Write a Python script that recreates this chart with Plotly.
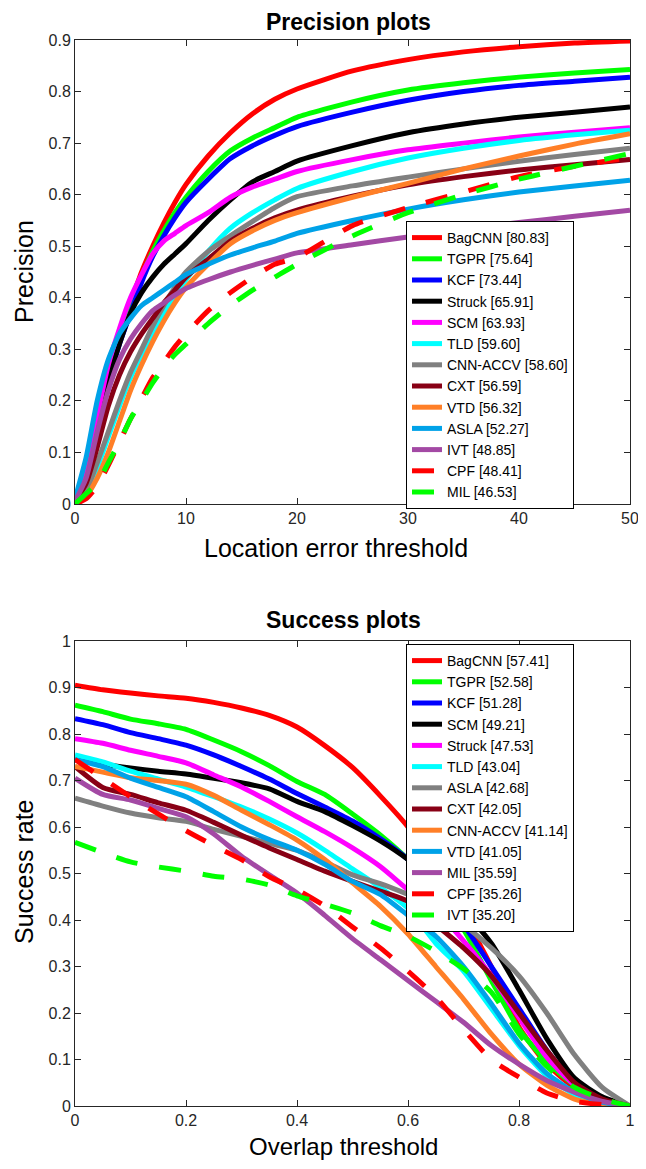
import plotly.graph_objects as go

# ---- precision plot data (location error threshold, px) ----
prec_x = [0, 1, 2, 3, 4, 5, 6, 7, 8, 9, 10, 12, 14, 16, 18, 20, 25, 30, 35, 40, 45, 50]

prec_bagcnn = [0.005, 0.06, 0.15, 0.25, 0.33, 0.39, 0.45, 0.50, 0.545, 0.585, 0.62, 0.675, 0.72, 0.757, 0.785, 0.805, 0.84, 0.862, 0.877, 0.887, 0.894, 0.898]
prec_tgpr = [0.005, 0.05, 0.14, 0.24, 0.32, 0.38, 0.44, 0.49, 0.53, 0.565, 0.595, 0.645, 0.685, 0.71, 0.73, 0.75, 0.78, 0.803, 0.817, 0.828, 0.836, 0.843]
prec_kcf = [0.005, 0.04, 0.13, 0.23, 0.31, 0.37, 0.43, 0.48, 0.52, 0.555, 0.585, 0.63, 0.67, 0.695, 0.715, 0.732, 0.76, 0.783, 0.80, 0.812, 0.82, 0.828]
prec_struck = [0.005, 0.05, 0.14, 0.24, 0.31, 0.37, 0.41, 0.44, 0.465, 0.485, 0.505, 0.55, 0.59, 0.625, 0.645, 0.665, 0.695, 0.72, 0.737, 0.75, 0.76, 0.77]
prec_scm = [0.005, 0.06, 0.17, 0.27, 0.34, 0.40, 0.445, 0.485, 0.51, 0.525, 0.54, 0.565, 0.595, 0.615, 0.63, 0.645, 0.668, 0.687, 0.70, 0.712, 0.721, 0.73]
prec_tld = [0.005, 0.02, 0.07, 0.13, 0.19, 0.245, 0.29, 0.33, 0.37, 0.405, 0.435, 0.49, 0.535, 0.565, 0.59, 0.612, 0.645, 0.671, 0.69, 0.705, 0.716, 0.725]
prec_cnnaccv = [0.005, 0.025, 0.08, 0.14, 0.2, 0.255, 0.3, 0.345, 0.385, 0.42, 0.45, 0.49, 0.52, 0.548, 0.575, 0.596, 0.617, 0.634, 0.65, 0.665, 0.678, 0.69]
prec_cxt = [0.005, 0.04, 0.11, 0.19, 0.25, 0.295, 0.33, 0.36, 0.39, 0.415, 0.44, 0.475, 0.51, 0.535, 0.555, 0.57, 0.597, 0.619, 0.635, 0.648, 0.658, 0.668]
prec_vtd = [0.005, 0.015, 0.05, 0.1, 0.16, 0.22, 0.27, 0.315, 0.355, 0.39, 0.42, 0.465, 0.505, 0.53, 0.55, 0.565, 0.595, 0.622, 0.65, 0.675, 0.698, 0.718]
prec_asla = [0.01, 0.09, 0.2, 0.28, 0.33, 0.36, 0.385, 0.40, 0.415, 0.43, 0.445, 0.465, 0.483, 0.497, 0.51, 0.525, 0.55, 0.572, 0.59, 0.605, 0.617, 0.628]
prec_ivt = [0.005, 0.05, 0.14, 0.22, 0.28, 0.32, 0.35, 0.375, 0.39, 0.405, 0.418, 0.435, 0.45, 0.463, 0.475, 0.487, 0.503, 0.518, 0.533, 0.546, 0.558, 0.57]
prec_cpf = [0.0, 0.01, 0.035, 0.075, 0.12, 0.165, 0.205, 0.245, 0.275, 0.305, 0.33, 0.375, 0.41, 0.44, 0.465, 0.478, 0.54, 0.575, 0.605, 0.635, 0.655, 0.672]
prec_mil = [0.0, 0.02, 0.04, 0.08, 0.12, 0.165, 0.2, 0.235, 0.265, 0.29, 0.31, 0.35, 0.385, 0.415, 0.44, 0.465, 0.52, 0.565, 0.60, 0.63, 0.655, 0.68]

prec_names = ["BagCNN [80.83]", "TGPR [75.64]", "KCF [73.44]", "Struck [65.91]", "SCM [63.93]",
              "TLD [59.60]", "CNN-ACCV [58.60]", "CXT [56.59]", "VTD [56.32]", "ASLA [52.27]",
              "IVT [48.85]", "CPF [48.41]", "MIL [46.53]"]
prec_series = [prec_bagcnn, prec_tgpr, prec_kcf, prec_struck, prec_scm, prec_tld, prec_cnnaccv,
               prec_cxt, prec_vtd, prec_asla, prec_ivt, prec_cpf, prec_mil]

# ---- success plot data (overlap threshold) ----
succ_x = [0, 0.05, 0.1, 0.15, 0.2, 0.25, 0.3, 0.35, 0.4, 0.45, 0.5, 0.55, 0.6, 0.65, 0.7, 0.75, 0.8, 0.85, 0.9, 0.95, 1.0]

succ_bagcnn = [0.905, 0.895, 0.888, 0.882, 0.877, 0.868, 0.856, 0.84, 0.815, 0.775, 0.728, 0.667, 0.6, 0.51, 0.41, 0.3, 0.17, 0.09, 0.04, 0.012, 0.0]
succ_tgpr = [0.862, 0.848, 0.832, 0.822, 0.81, 0.787, 0.762, 0.732, 0.698, 0.67, 0.628, 0.583, 0.53, 0.46, 0.38, 0.27, 0.165, 0.095, 0.045, 0.015, 0.0]
succ_kcf = [0.833, 0.82, 0.803, 0.79, 0.776, 0.755, 0.73, 0.703, 0.672, 0.643, 0.613, 0.575, 0.53, 0.46, 0.39, 0.3, 0.21, 0.12, 0.05, 0.015, 0.0]
succ_scm = [0.745, 0.735, 0.727, 0.72, 0.714, 0.705, 0.695, 0.682, 0.655, 0.633, 0.603, 0.57, 0.53, 0.48, 0.42, 0.35, 0.25, 0.145, 0.06, 0.02, 0.0]
succ_struck = [0.79, 0.78, 0.765, 0.752, 0.738, 0.712, 0.686, 0.655, 0.622, 0.59, 0.555, 0.515, 0.465, 0.42, 0.355, 0.28, 0.19, 0.105, 0.045, 0.012, 0.0]
succ_tld = [0.755, 0.74, 0.72, 0.703, 0.686, 0.665, 0.643, 0.617, 0.587, 0.55, 0.51, 0.47, 0.425, 0.35, 0.29, 0.21, 0.13, 0.065, 0.025, 0.008, 0.0]
succ_asla = [0.662, 0.645, 0.63, 0.62, 0.612, 0.595, 0.58, 0.565, 0.55, 0.525, 0.497, 0.478, 0.455, 0.43, 0.39, 0.34, 0.28, 0.2, 0.11, 0.04, 0.0]
succ_cxt = [0.73, 0.685, 0.67, 0.652, 0.636, 0.61, 0.582, 0.555, 0.53, 0.505, 0.483, 0.462, 0.44, 0.39, 0.34, 0.28, 0.2, 0.12, 0.05, 0.015, 0.0]
succ_cnnaccv = [0.73, 0.718, 0.706, 0.7, 0.692, 0.668, 0.636, 0.605, 0.572, 0.53, 0.48, 0.43, 0.37, 0.3, 0.23, 0.155, 0.09, 0.045, 0.015, 0.004, 0.0]
succ_vtd = [0.745, 0.73, 0.705, 0.685, 0.665, 0.633, 0.6, 0.573, 0.55, 0.52, 0.483, 0.455, 0.41, 0.365, 0.3, 0.22, 0.135, 0.07, 0.03, 0.008, 0.0]
succ_mil = [0.705, 0.67, 0.658, 0.64, 0.622, 0.585, 0.537, 0.497, 0.458, 0.41, 0.36, 0.315, 0.27, 0.225, 0.18, 0.13, 0.09, 0.055, 0.03, 0.01, 0.0]
succ_cpf = [0.745, 0.705, 0.665, 0.628, 0.592, 0.56, 0.53, 0.493, 0.465, 0.43, 0.385, 0.34, 0.29, 0.235, 0.165, 0.1, 0.062, 0.028, 0.01, 0.003, 0.0]
succ_ivt = [0.567, 0.545, 0.525, 0.514, 0.505, 0.494, 0.488, 0.475, 0.452, 0.434, 0.415, 0.388, 0.365, 0.333, 0.295, 0.245, 0.155, 0.085, 0.04, 0.015, 0.0]

succ_names = ["BagCNN [57.41]", "TGPR [52.58]", "KCF [51.28]", "SCM [49.21]", "Struck [47.53]",
              "TLD [43.04]", "ASLA [42.68]", "CXT [42.05]", "CNN-ACCV [41.14]", "VTD [41.05]",
              "MIL [35.59]", "CPF [35.26]", "IVT [35.20]"]
succ_series = [succ_bagcnn, succ_tgpr, succ_kcf, succ_scm, succ_struck, succ_tld, succ_asla,
               succ_cxt, succ_cnnaccv, succ_vtd, succ_mil, succ_cpf, succ_ivt]

# colours go by rank, same in both panels
colors = ["#FF0000", "#00FF00", "#0000FF", "#000000", "#FF00FF", "#00FFFF", "#808080",
          "#880015", "#FF7F27", "#00A2E8", "#A349A4", "#FF0000", "#00FF00"]
dashes = ["solid"] * 11 + ["22px,22px", "22px,22px"]

FONT = "Liberation Sans, Arial, Helvetica, sans-serif"
AXCOL = "#262626"

# the page body has an 8px margin; size the figure so the page does not scroll
OFF = 8
W, H = 646 - OFF, 1169 - 2 * OFF


def fx(px):
    return (px - OFF) / W


def fy(py):
    return 1 - (py - OFF) / H


fig = go.Figure()

for name, ys, c, d in zip(prec_names, prec_series, colors, dashes):
    fig.add_trace(go.Scatter(
        x=prec_x, y=ys, name=name, mode="lines",
        line=dict(color=c, width=5, dash=d, shape="spline", smoothing=0.6),
        xaxis="x", yaxis="y", legend="legend",
    ))

for name, ys, c, d in zip(succ_names, succ_series, colors, dashes):
    fig.add_trace(go.Scatter(
        x=succ_x, y=ys, name=name, mode="lines",
        line=dict(color=c, width=5, dash=d, shape="spline", smoothing=0.6),
        xaxis="x2", yaxis="y2", legend="legend2",
    ))

# right edge pulled in a little so the last tick label ("50", "1") stays on the page
xdom = [fx(75), fx(630)]

axis_common = dict(
    showline=True, linecolor=AXCOL, linewidth=1, mirror="ticks",
    ticks="inside", ticklen=6, tickcolor=AXCOL, showgrid=False, zeroline=False,
    automargin=False, ticklabeloverflow="allow",
    tickfont=dict(family=FONT, size=16, color=AXCOL),
)

legend_common = dict(
    bgcolor="white", bordercolor="#000000", borderwidth=1,
    font=dict(family=FONT, size=14, color="#000000"),
    xanchor="left", yanchor="top", tracegroupgap=0, itemwidth=30,
)

fig.update_layout(
    width=W, height=H,
    margin=dict(l=0, r=0, t=0, b=0, autoexpand=False),
    plot_bgcolor="white", paper_bgcolor="white",
    showlegend=True,
    xaxis=dict(domain=xdom, range=[0, 50], tickvals=[0, 10, 20, 30, 40, 50],
               anchor="y", **axis_common),
    yaxis=dict(domain=[fy(504), fy(40)], range=[0, 0.9],
               tickvals=[0, 0.1, 0.2, 0.3, 0.4, 0.5, 0.6, 0.7, 0.8, 0.9],
               ticktext=["0", "0.1", "0.2", "0.3", "0.4", "0.5", "0.6", "0.7", "0.8", "0.9"],
               anchor="x", **axis_common),
    xaxis2=dict(domain=xdom, range=[0, 1], tickvals=[0, 0.2, 0.4, 0.6, 0.8, 1],
                ticktext=["0", "0.2", "0.4", "0.6", "0.8", "1"], anchor="y2", **axis_common),
    yaxis2=dict(domain=[fy(1106), fy(641)], range=[0, 1],
                tickvals=[0, 0.1, 0.2, 0.3, 0.4, 0.5, 0.6, 0.7, 0.8, 0.9, 1],
                ticktext=["0", "0.1", "0.2", "0.3", "0.4", "0.5", "0.6", "0.7", "0.8", "0.9", "1"],
                anchor="x2", **axis_common),
    legend=dict(x=fx(406), y=fy(221), **legend_common),
    legend2=dict(x=fx(406), y=fy(644), **legend_common),
)

# titles and axis labels
texts = [
    ("<b>Precision plots</b>", 348, 22, 23, 0),
    ("Location error threshold", 336, 548, 25, 0),
    ("Precision", 24, 272, 25, -90),
    ("<b>Success plots</b>", 343, 620, 23, 0),
    ("Overlap threshold", 343, 1146, 24, 0),
    ("Success rate", 24, 872, 25, -90),
]
for txt, px, py, size, ang in texts:
    fig.add_annotation(
        text=txt, x=fx(px), y=fy(py), xref="paper", yref="paper",
        showarrow=False, textangle=ang, xanchor="center", yanchor="middle",
        font=dict(family=FONT, size=size, color="#000000"),
    )

fig.write_html("out.html")
